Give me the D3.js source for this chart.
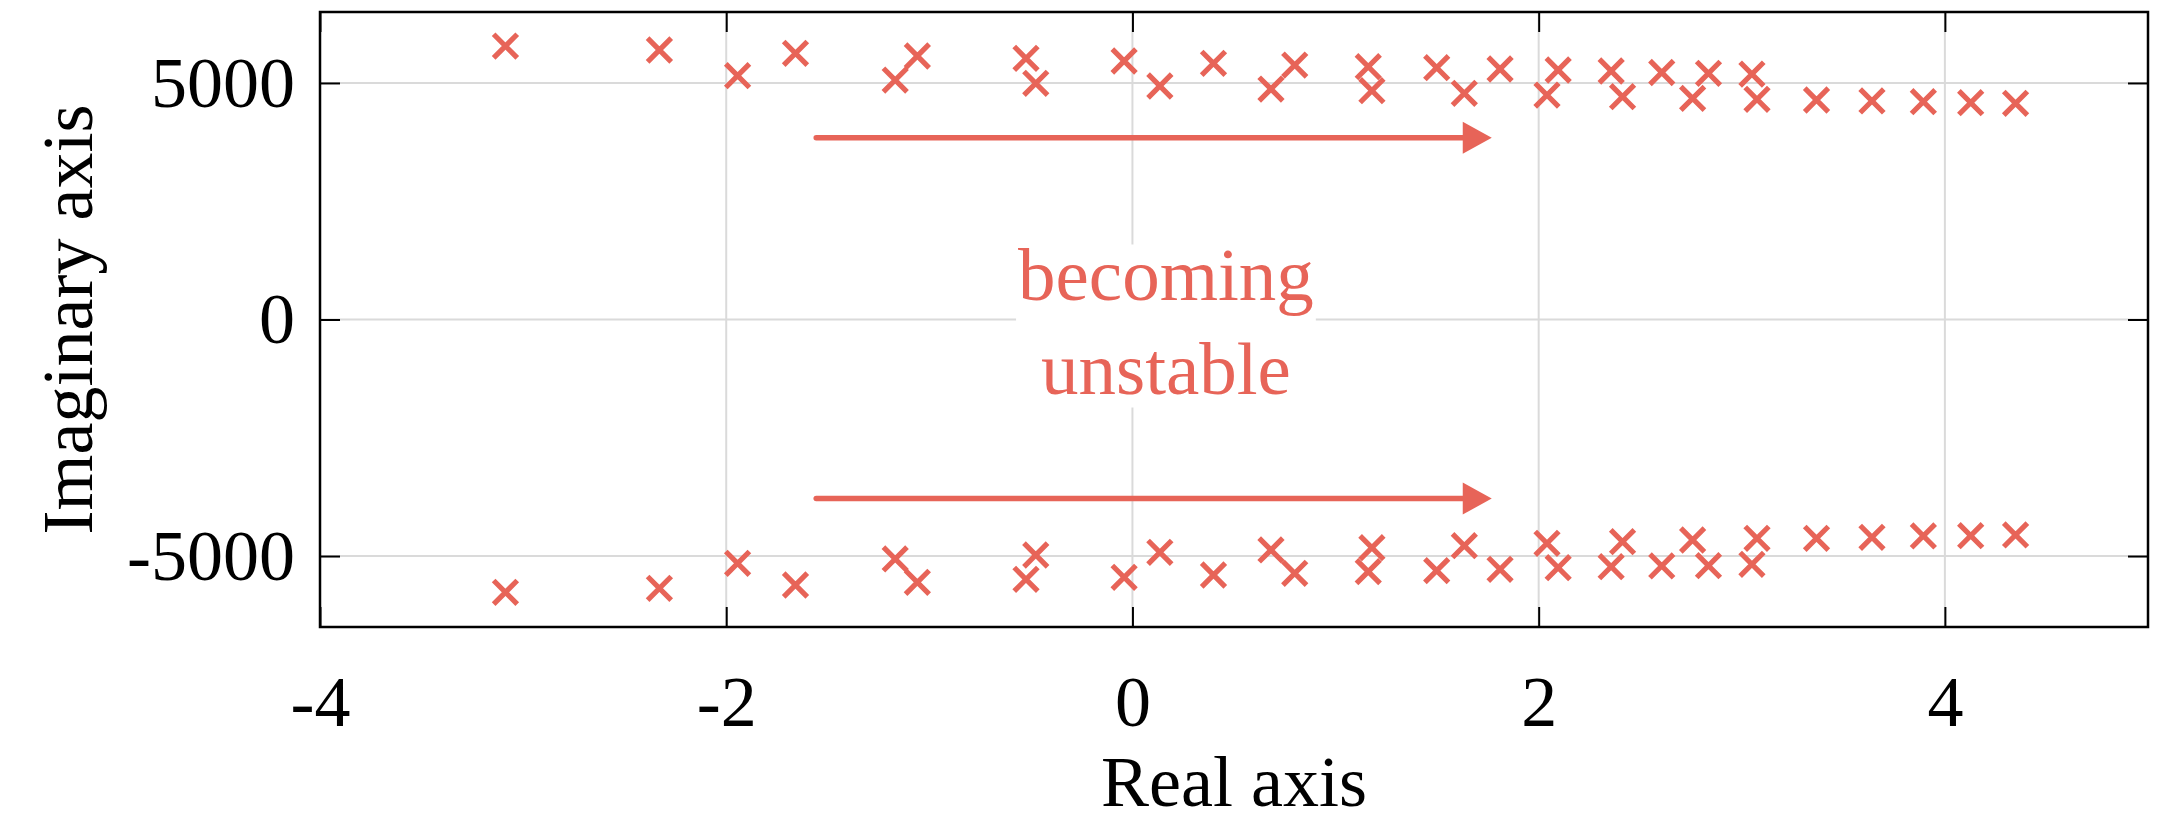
<!DOCTYPE html>
<html>
<head>
<meta charset="utf-8">
<script src="https://cdn.jsdelivr.net/npm/d3@7"></script>
<style>
  html, body { margin: 0; padding: 0; background: #ffffff; }
  svg { display: block; }
  text { font-family: "Liberation Serif", "Times New Roman", serif; }
</style>
</head>
<body>
<svg id="chart" width="2163" height="822"></svg>
<script>
// Closed-loop eigenvalues: real parts and imaginary parts of the upper and lower branches
const realParts = [-3.087, -2.329, -1.944, -1.659, -1.168, -1.059, -0.524, -0.476, -0.041, 0.135,
                   0.399, 0.682, 0.799, 1.161, 1.179, 1.498, 1.634, 1.810, 2.041, 2.096,
                   2.357, 2.413, 2.606, 2.758, 2.836, 3.050, 3.075, 3.368, 3.641, 3.894,
                   4.127, 4.348];
const imagUpper = [5781, 5697, 5154, 5627, 5062, 5570, 5521, 4993, 5464, 4936,
                   5415, 4872, 5379, 5344, 4836, 5322, 4781, 5295, 4745, 5274,
                   5253, 4709, 5221, 4675, 5204, 5189, 4654, 4640, 4619, 4604,
                   4583, 4570];
const imagLower = [-5766, -5682, -5153, -5612, -5062, -5555, -5492, -4978, -5449, -4921,
                   -5401, -4872, -5365, -5330, -4823, -5309, -4781, -5280, -4730, -5246,
                   -5225, -4697, -5210, -4661, -5204, -5175, -4625, -4625, -4604, -4576,
                   -4570, -4555];

// Axis ranges and tick values
const xDomain = [-4, 5];
const yDomain = [-6500, 6500];
const xTicks = [-4, -2, 0, 2, 4];
const yTicks = [-5000, 0, 5000];

// Annotation: two arrows pointing to the right half-plane
const arrowStartX = -1.557;
const arrowTipX = 1.769;
const arrowYs = [3843, -3784];
const annotationLines = ["becoming", "unstable"];
const annotationAt = [0.165, 0];

(function draw() {
  const color = "#e76458";
  const svg = d3.select("#chart");

  const pL = 320, pR = 2148, pT = 12, pB = 627;
  const x = d3.scaleLinear().domain(xDomain).range([pL, pR]);
  const y = d3.scaleLinear().domain(yDomain).range([pB, pT]);

  // Grid
  const grid = svg.append("g").attr("stroke", "#dadada").attr("stroke-width", 2);
  grid.selectAll("line.vx").data(xTicks.filter(d => d > xDomain[0])).join("line")
    .attr("x1", d => x(d)).attr("x2", d => x(d)).attr("y1", pT).attr("y2", pB);
  grid.selectAll("line.hy").data(yTicks).join("line")
    .attr("y1", d => y(d)).attr("y2", d => y(d)).attr("x1", pL).attr("x2", pR);

  // Annotation text with a white backing box
  const ann = svg.append("g");
  const annText = ann.append("text")
    .attr("text-anchor", "middle")
    .attr("font-size", 75)
    .attr("fill", color);
  annText.selectAll("tspan").data(annotationLines).join("tspan")
    .attr("x", x(annotationAt[0]))
    .attr("y", (d, i) => y(annotationAt[1]) - 20 + i * 94)
    .text(d => d);
  const bb = annText.node().getBBox();
  ann.insert("rect", "text")
    .attr("x", bb.x - 2).attr("y", bb.y + 12)
    .attr("width", bb.width + 4).attr("height", bb.height - 14)
    .attr("fill", "#ffffff");

  // Arrows
  const arrows = svg.append("g").attr("fill", color).attr("stroke", color);
  arrowYs.forEach(v => {
    const tip = x(arrowTipX);
    const base = tip - 29;
    arrows.append("line")
      .attr("x1", x(arrowStartX)).attr("x2", base + 2)
      .attr("y1", y(v)).attr("y2", y(v))
      .attr("stroke-width", 5.5).attr("stroke-linecap", "round");
    arrows.append("path")
      .attr("stroke", "none")
      .attr("d", `M${tip},${y(v)}L${base},${y(v) - 16}L${base},${y(v) + 16}Z`);
  });

  // Eigenvalue markers
  const pts = realParts.map((r, i) => [r, imagUpper[i]])
    .concat(realParts.map((r, i) => [r, imagLower[i]]));
  const s = 11.8;
  svg.append("g").selectAll("path").data(pts).join("path")
    .attr("transform", d => `translate(${x(d[0])},${y(d[1])})`)
    .attr("d", `M${-s},${-s}L${s},${s}M${-s},${s}L${s},${-s}`)
    .attr("fill", "none").attr("stroke", color).attr("stroke-width", 5.2);

  // Axes with inward ticks on all four sides
  const fmt = d => String(d);
  const styleAxis = g => {
    g.select(".domain").remove();
    g.selectAll(".tick line").attr("stroke", "#000").attr("stroke-width", 2);
    g.selectAll("text").attr("font-size", 72).attr("fill", "#000")
      .attr("font-family", "'Liberation Serif', 'Times New Roman', serif");
  };
  svg.append("g").attr("transform", `translate(0,${pB})`)
    .call(d3.axisBottom(x).tickValues(xTicks).tickFormat(fmt).tickSizeInner(-20).tickSizeOuter(0).tickPadding(48))
    .call(styleAxis);
  svg.append("g").attr("transform", `translate(0,${pT})`)
    .call(d3.axisTop(x).tickValues(xTicks).tickFormat("").tickSizeInner(-20).tickSizeOuter(0))
    .call(styleAxis);
  svg.append("g").attr("transform", `translate(${pL},0)`)
    .call(d3.axisLeft(y).tickValues(yTicks).tickFormat(fmt).tickSizeInner(-20).tickSizeOuter(0).tickPadding(25))
    .call(styleAxis);
  svg.append("g").attr("transform", `translate(${pR},0)`)
    .call(d3.axisRight(y).tickValues(yTicks).tickFormat("").tickSizeInner(-20).tickSizeOuter(0))
    .call(styleAxis);

  // Frame
  svg.append("rect")
    .attr("x", pL).attr("y", pT).attr("width", pR - pL).attr("height", pB - pT)
    .attr("fill", "none").attr("stroke", "#000").attr("stroke-width", 2.5);

  // Axis titles
  svg.append("text")
    .attr("x", (pL + pR) / 2).attr("y", 806)
    .attr("text-anchor", "middle").attr("font-size", 72).attr("fill", "#000")
    .text("Real axis");
  svg.append("text")
    .attr("transform", `translate(92,${(pT + pB) / 2}) rotate(-90)`)
    .attr("text-anchor", "middle").attr("font-size", 72).attr("fill", "#000")
    .text("Imaginary axis");
})();
</script>
</body>
</html>
